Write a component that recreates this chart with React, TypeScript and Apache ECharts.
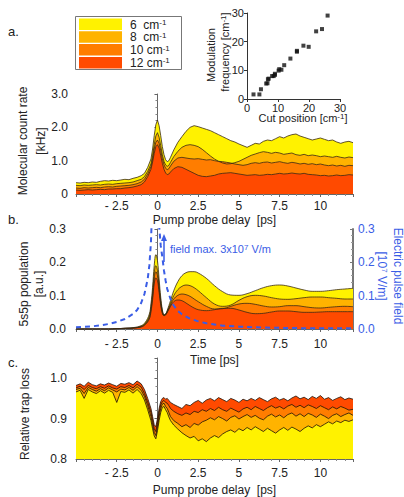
import React, { useEffect, useRef } from 'react';
import * as echarts from 'echarts';

// ---------- data ----------
const delays = [-5,-4.75,-4.5,-4.25,-4,-3.75,-3.5,-3.25,-3,-2.75,-2.5,-2.25,-2,-1.75,-1.5,-1.25,-1,
  -0.8,-0.6,-0.4,
  -0.3,-0.2,-0.1,0,0.1,0.2,0.3,0.4,0.5,0.6,0.7,0.8,
  1,1.25,1.5,1.75,2,2.25,2.5,2.75,3,3.25,3.5,3.75,4,4.25,4.5,4.75,5,5.25,5.5,5.75,6,6.25,6.5,6.75,7,7.25,7.5,7.75,8,8.25,8.5,8.75,9,9.25,9.5,9.75,10,10.25,10.5,10.75,11,11.25,11.5,11.75,12];

const countRate6 = [0.34,0.33,0.35,0.34,0.36,0.35,0.38,0.40,0.39,0.41,0.40,0.42,0.44,0.43,0.47,0.50,0.55,
  0.62,0.80,1.05,
  1.35,1.75,2.08,2.22,2.05,1.75,1.42,1.18,1.03,0.97,1.00,1.10,
  1.32,1.55,1.72,1.88,2.00,2.05,2.02,1.98,1.94,1.90,1.84,1.78,1.72,1.66,1.60,1.56,1.50,1.45,1.40,1.46,1.52,1.50,1.58,1.62,1.60,1.66,1.72,1.68,1.74,1.78,1.80,1.74,1.70,1.66,1.62,1.65,1.68,1.64,1.60,1.62,1.56,1.52,1.56,1.58,1.54];
const countRate8 = [0.26,0.25,0.27,0.26,0.27,0.28,0.27,0.29,0.30,0.29,0.31,0.32,0.33,0.34,0.36,0.40,0.44,
  0.52,0.68,0.90,
  1.15,1.48,1.74,1.84,1.70,1.45,1.18,0.98,0.87,0.83,0.86,0.95,
  1.12,1.28,1.40,1.46,1.48,1.46,1.42,1.34,1.24,1.14,1.05,0.98,0.93,0.90,0.91,0.94,0.98,1.04,1.10,1.16,1.20,1.24,1.27,1.25,1.22,1.25,1.23,1.19,1.21,1.23,1.18,1.16,1.19,1.15,1.17,1.15,1.12,1.14,1.12,1.10,1.13,1.10,1.08,1.11,1.09];
const countRate10 = [0.18,0.17,0.19,0.18,0.19,0.20,0.19,0.21,0.22,0.21,0.23,0.24,0.25,0.26,0.28,0.31,0.36,
  0.44,0.60,0.82,
  1.05,1.35,1.55,1.62,1.52,1.30,1.06,0.88,0.77,0.73,0.76,0.84,
  0.98,1.08,1.10,1.08,1.06,1.05,1.06,1.04,1.02,1.03,1.00,0.98,0.97,0.95,0.93,0.90,0.88,0.86,0.88,0.92,0.94,0.92,0.95,0.96,0.93,0.95,0.97,0.94,0.92,0.95,0.93,0.90,0.92,0.89,0.91,0.88,0.90,0.87,0.85,0.87,0.84,0.86,0.83,0.86,0.85];
const countRate12 = [0.12,0.11,0.12,0.13,0.12,0.13,0.14,0.13,0.15,0.15,0.16,0.16,0.18,0.19,0.21,0.24,0.28,
  0.36,0.52,0.74,
  0.96,1.22,1.42,1.48,1.38,1.15,0.92,0.74,0.63,0.58,0.60,0.66,
  0.76,0.82,0.80,0.74,0.68,0.62,0.56,0.53,0.52,0.54,0.56,0.60,0.62,0.63,0.64,0.62,0.60,0.58,0.56,0.57,0.58,0.56,0.57,0.59,0.58,0.60,0.62,0.60,0.61,0.63,0.61,0.60,0.62,0.59,0.58,0.57,0.55,0.56,0.54,0.55,0.57,0.55,0.56,0.58,0.57];

const popTimes = [-5,-4,-3,-2.5,-2,-1.5,-1,-0.75,-0.5,
  -0.4,-0.3,-0.2,-0.1,0,0.1,0.2,0.3,0.4,0.5,0.6,
  0.8,1,1.25,1.5,1.75,2,2.25,2.5,
  3,3.5,4,4.5,5,5.5,6,6.5,7,7.5,8,8.5,9,9.5,10,10.5,11,11.5,12];
const population6 = [0,0,0,0.001,0.002,0.004,0.010,0.020,0.045,
  0.075,0.125,0.190,0.223,0.205,0.150,0.095,0.058,0.043,0.045,0.056,
  0.085,0.115,0.142,0.160,0.169,0.172,0.172,0.168,
  0.152,0.130,0.112,0.102,0.101,0.106,0.115,0.124,0.130,0.132,0.129,0.123,0.117,0.113,0.113,0.115,0.118,0.120,0.122];
const population8 = [0,0,0,0.001,0.002,0.003,0.008,0.017,0.038,
  0.065,0.108,0.165,0.190,0.175,0.130,0.085,0.054,0.042,0.044,0.053,
  0.077,0.100,0.118,0.128,0.132,0.130,0.124,0.115,
  0.094,0.075,0.068,0.072,0.086,0.097,0.101,0.099,0.094,0.090,0.089,0.091,0.094,0.096,0.096,0.094,0.092,0.090,0.090];
const population10 = [0,0,0,0.001,0.002,0.003,0.007,0.015,0.034,
  0.058,0.098,0.150,0.172,0.160,0.120,0.078,0.050,0.041,0.043,0.051,
  0.072,0.090,0.101,0.105,0.103,0.098,0.090,0.082,
  0.068,0.060,0.061,0.068,0.075,0.077,0.074,0.069,0.066,0.067,0.070,0.070,0.067,0.064,0.063,0.065,0.067,0.068,0.067];
const population12 = [0,0,0,0.001,0.002,0.003,0.006,0.013,0.030,
  0.052,0.088,0.135,0.153,0.145,0.110,0.072,0.047,0.040,0.042,0.050,
  0.068,0.082,0.087,0.085,0.078,0.070,0.063,0.058,
  0.055,0.058,0.062,0.062,0.057,0.050,0.046,0.047,0.051,0.054,0.054,0.052,0.050,0.050,0.051,0.052,0.052,0.052,0.052];

const fieldTimes = [-5,-4,-3.5,-3,-2.5,-2,-1.5,-1.25,-1,-0.8,-0.6,-0.5,-0.4,-0.3,-0.2,-0.1,0,0.1,0.2,0.3,0.4,0.5,0.6,0.8,1,1.25,1.5,2,2.5,3,4,5,6,8,10,12];
const fieldValues = [0.005,0.008,0.011,0.015,0.021,0.030,0.045,0.057,0.078,0.105,0.150,0.190,0.260,0.400,1.000,3.000,1.500,0.310,0.250,0.215,0.175,0.145,0.120,0.090,0.070,0.054,0.044,0.031,0.023,0.017,0.010,0.007,0.005,0.003,0.002,0.002];

const trapLoss12 = [0.982,0.986,0.980,0.990,0.984,0.981,0.986,0.983,0.988,0.984,0.980,0.987,0.985,0.989,0.984,0.993,0.986,
  0.972,0.950,0.925,
  0.905,0.885,0.880,0.900,0.925,0.942,0.950,0.952,0.948,0.950,0.945,0.940,
  0.935,0.930,0.925,0.935,0.932,0.940,0.945,0.938,0.946,0.950,0.944,0.952,0.947,0.942,0.950,0.946,0.940,0.948,0.944,0.950,0.945,0.952,0.947,0.942,0.949,0.953,0.946,0.950,0.944,0.951,0.956,0.949,0.953,0.947,0.955,0.950,0.957,0.948,0.952,0.945,0.950,0.954,0.947,0.951,0.948];
const trapLoss10 = [0.976,0.980,0.972,0.982,0.977,0.974,0.979,0.975,0.981,0.976,0.973,0.979,0.977,0.982,0.976,0.985,0.978,
  0.962,0.940,0.915,
  0.895,0.875,0.868,0.890,0.915,0.934,0.942,0.945,0.940,0.938,0.932,0.925,
  0.918,0.912,0.908,0.914,0.910,0.918,0.915,0.922,0.918,0.925,0.920,0.928,0.922,0.918,0.926,0.921,0.916,0.924,0.928,0.922,0.930,0.925,0.920,0.927,0.932,0.926,0.930,0.924,0.931,0.935,0.928,0.933,0.927,0.934,0.930,0.925,0.932,0.927,0.922,0.929,0.924,0.930,0.926,0.921,0.923];
const trapLoss8 = [0.972,0.975,0.962,0.977,0.972,0.968,0.974,0.969,0.976,0.971,0.966,0.973,0.971,0.977,0.970,0.979,0.970,
  0.955,0.932,0.905,
  0.885,0.866,0.858,0.880,0.905,0.925,0.936,0.938,0.930,0.925,0.915,0.905,
  0.895,0.888,0.880,0.885,0.878,0.888,0.884,0.892,0.896,0.902,0.897,0.905,0.900,0.894,0.903,0.907,0.899,0.905,0.910,0.903,0.908,0.901,0.897,0.906,0.911,0.904,0.909,0.902,0.910,0.914,0.906,0.912,0.905,0.913,0.909,0.903,0.911,0.906,0.900,0.908,0.912,0.905,0.910,0.914,0.908];
const trapLoss6 = [0.966,0.970,0.950,0.972,0.966,0.962,0.969,0.963,0.970,0.965,0.940,0.967,0.965,0.971,0.963,0.972,0.962,
  0.946,0.922,0.895,
  0.875,0.857,0.850,0.870,0.895,0.915,0.928,0.930,0.922,0.915,0.904,0.895,
  0.884,0.874,0.865,0.858,0.852,0.856,0.845,0.850,0.843,0.852,0.858,0.853,0.862,0.868,0.872,0.866,0.875,0.870,0.878,0.872,0.880,0.874,0.868,0.876,0.870,0.864,0.872,0.878,0.871,0.879,0.874,0.868,0.876,0.882,0.877,0.885,0.880,0.886,0.892,0.887,0.894,0.890,0.896,0.893,0.897];

const cutPosition = [2.1,4.0,4.5,6.2,6.6,6.75,7.0,8.1,8.6,9.0,9.0,10.2,10.4,11.1,12.0,14.0,16.1,16.1,18.2,19.9,22.3,24.2,26.0];
const modulationFrequency = [1.6,1.6,3.4,5.4,5.5,6.9,7.1,8.0,8.0,8.4,8.8,9.9,10.4,10.2,11.8,14.1,16.5,16.8,18.6,18.2,23.6,24.4,29.1];

const seriesNames = ['6  cm', '8  cm', '10 cm', '12 cm'];
const delayTickValues = [-2.5, 0, 2.5, 5, 7.5, 10];
const delayTickLabels = ['- 2.5', '0', '2.5', '5', '7.5', '10'];
const countTickValues = [0, 1, 2, 3];
const countTickLabels = ['0', '1.0', '2.0', '3.0'];
const popTickValues = [0, 0.1, 0.2, 0.3];
const popTickLabels = ['0.0', '0.1', '0.2', '0.3'];
const trapTickValues = [0.8, 0.9, 1.0];
const trapTickLabels = ['0.8', '0.9', '1.0'];
const insetTickValues = [0, 10, 20, 30];
const insetTickLabels = ['0', '10', '20', '30'];

// ---------- styles ----------
const FILLS = ['#fff200', '#ffb300', '#ff7d00', '#ff4a00'];
const BLUE = '#3a5de6';
const FONT = '"Liberation Sans", Arial, Helvetica, sans-serif';
const TEXT = '#222';

const pairs = (xs: number[], ys: number[]) => xs.map((x, i) => [x, ys[i]]);
const fmt = (vals: number[], labels: string[]) => (v: number) => {
  const i = vals.findIndex((t) => Math.abs(t - v) < 1e-6);
  return i >= 0 ? labels[i] : '';
};

const axisLine = { show: true, lineStyle: { color: '#666', width: 1 } };
const axisTick = { show: true, length: 3, lineStyle: { color: '#666' } };
const minorTick = { show: true, splitNumber: 5, length: 2, lineStyle: { color: '#888' } };

function area(name: string, xi: number, yi: number, xs: number[], ys: number[], color: string, smooth: boolean | number, lineColor = '#3a2a14') {
  return {
    type: 'line', name, xAxisIndex: xi, yAxisIndex: yi, data: pairs(xs, ys),
    showSymbol: false, symbol: 'none', smooth, silent: true,
    lineStyle: { color: lineColor, width: 0.8 },
    itemStyle: { color },
    areaStyle: { color, opacity: 1, origin: 'start' },
  };
}

function xDelayAxis(gridIndex: number, margin: number) {
  return {
    type: 'value', gridIndex, min: -5, max: 12, interval: 2.5,
    axisLine, axisTick, minorTick, splitLine: { show: false },
    axisLabel: { margin, fontSize: 12, fontFamily: FONT, color: TEXT, formatter: fmt(delayTickValues, delayTickLabels) },
  };
}

const supRich = { s: { fontSize: 8, fontFamily: FONT, verticalAlign: 'top', fill: TEXT } };

function txt(x: number, y: number, text: string, opts: any = {}) {
  return {
    type: 'text', x, y, rotation: opts.rotation || 0, silent: true,
    style: {
      text, align: opts.align || 'center', verticalAlign: 'middle',
      fontSize: opts.fontSize || 12, fontFamily: FONT, fill: opts.fill || TEXT,
      rich: opts.rich,
    },
  };
}

export default function App() {
  const ref = useRef<HTMLDivElement>(null);
  useEffect(() => {
    if (!ref.current) return;
    const chart = echarts.init(ref.current, null, { renderer: 'svg' });
    const blueRich = { s: { fontSize: 8, fontFamily: FONT, verticalAlign: 'top', fill: BLUE } };
    const legendItems: any[] = [
      { type: 'rect', shape: { x: 75.5, y: 16.5, width: 106, height: 53 }, style: { fill: '#fff', stroke: '#777', lineWidth: 1 }, silent: true },
    ];
    seriesNames.forEach((n, i) => {
      legendItems.push({ type: 'rect', shape: { x: 79, y: 18.5 + i * 12.8, width: 43, height: 11.5 }, style: { fill: FILLS[i] }, silent: true });
      legendItems.push(txt(130, 24.5 + i * 12.8, n + '{s|-1}', { align: 'left', rich: supRich }));
    });

    const option: any = {
      animation: false,
      backgroundColor: '#fff',
      grid: [
        { left: 76, top: 94, width: 277, height: 100 },
        { left: 76, top: 229, width: 277, height: 100 },
        { left: 76, top: 358, width: 277, height: 101 },
        { left: 247, top: 13, width: 93, height: 86 },
      ],
      xAxis: [
        xDelayAxis(0, 6),
        xDelayAxis(1, 9),
        xDelayAxis(2, 8),
        {
          type: 'value', gridIndex: 3, min: 0, max: 30, interval: 10,
          axisLine: { show: true, lineStyle: { color: '#333' } }, axisTick: { show: true, length: 3, lineStyle: { color: '#333' } },
          splitLine: { show: false },
          axisLabel: { margin: 3, fontSize: 11, fontFamily: FONT, color: TEXT, formatter: fmt(insetTickValues, insetTickLabels) },
        },
      ],
      yAxis: [
        {
          type: 'value', gridIndex: 0, min: 0, max: 3, interval: 1,
          axisLine, axisTick, minorTick, splitLine: { show: false },
          axisLabel: { margin: 8, fontSize: 12, fontFamily: FONT, color: TEXT, formatter: fmt(countTickValues, countTickLabels) },
        },
        {
          type: 'value', gridIndex: 1, min: 0, max: 0.3, interval: 0.1,
          axisLine, axisTick, minorTick, splitLine: { show: false },
          axisLabel: { margin: 10, fontSize: 12, fontFamily: FONT, color: TEXT, formatter: fmt(popTickValues, popTickLabels) },
        },
        {
          type: 'value', gridIndex: 1, position: 'right', min: 0, max: 0.3, interval: 0.1,
          axisLine: { show: true, lineStyle: { color: '#777', width: 2 } },
          axisTick: { show: true, inside: true, length: 3, lineStyle: { color: '#777' } },
          minorTick: { show: true, splitNumber: 5, length: 2, lineStyle: { color: '#999' } },
          splitLine: { show: false },
          axisLabel: { margin: 5, fontSize: 12, fontFamily: FONT, color: BLUE, formatter: fmt(popTickValues, popTickLabels) },
        },
        {
          type: 'value', gridIndex: 2, min: 0.8, max: 1.05, interval: 0.1,
          axisLine, axisTick, minorTick, splitLine: { show: false },
          axisLabel: { margin: 9, fontSize: 12, fontFamily: FONT, color: TEXT, formatter: fmt(trapTickValues, trapTickLabels) },
        },
        {
          type: 'value', gridIndex: 3, min: 0, max: 30, interval: 10,
          axisLine: { show: true, lineStyle: { color: '#333' } }, axisTick: { show: true, length: 3, lineStyle: { color: '#333' } },
          splitLine: { show: false },
          axisLabel: { margin: 3, fontSize: 11, fontFamily: FONT, color: TEXT, formatter: fmt(insetTickValues, insetTickLabels) },
        },
      ],
      series: [
        area(seriesNames[0], 0, 0, delays, countRate6, FILLS[0], false),
        area(seriesNames[1], 0, 0, delays, countRate8, FILLS[1], false),
        area(seriesNames[2], 0, 0, delays, countRate10, FILLS[2], false),
        area(seriesNames[3], 0, 0, delays, countRate12, FILLS[3], false),
        area(seriesNames[0], 1, 1, popTimes, population6, FILLS[0], 0.4),
        area(seriesNames[1], 1, 1, popTimes, population8, FILLS[1], 0.4),
        area(seriesNames[2], 1, 1, popTimes, population10, FILLS[2], 0.4),
        area(seriesNames[3], 1, 1, popTimes, population12, FILLS[3], 0.4),
        {
          type: 'line', name: 'field', xAxisIndex: 1, yAxisIndex: 2, data: pairs(fieldTimes, fieldValues),
          showSymbol: false, symbol: 'none', clip: true, silent: true, z: 5,
          lineStyle: { color: BLUE, width: 2, type: [5, 4] },
        },
        area(seriesNames[3], 2, 3, delays, trapLoss12, FILLS[3], false, '#1c1208'),
        area(seriesNames[2], 2, 3, delays, trapLoss10, FILLS[2], false, '#1c1208'),
        area(seriesNames[1], 2, 3, delays, trapLoss8, FILLS[1], false, '#1c1208'),
        area(seriesNames[0], 2, 3, delays, trapLoss6, FILLS[0], false, '#1c1208'),
        {
          type: 'scatter', name: 'inset', xAxisIndex: 3, yAxisIndex: 4, data: pairs(cutPosition, modulationFrequency),
          symbol: 'rect', symbolSize: 4, itemStyle: { color: '#111' }, silent: true,
        },
      ],
      graphic: [
        ...legendItems,
        txt(8, 31, 'a.', { align: 'left', fontSize: 13 }),
        txt(8, 219, 'b.', { align: 'left', fontSize: 13 }),
        txt(8, 362, 'c.', { align: 'left', fontSize: 13 }),
        txt(214.5, 220, 'Pump probe delay  [ps]', { fontSize: 12 }),
        txt(214.5, 359.5, 'Time [ps]', { fontSize: 12 }),
        txt(214.5, 490, 'Pump probe delay  [ps]', { fontSize: 12 }),
        txt(22.5, 141, 'Molecular count rate', { rotation: Math.PI / 2 }),
        txt(40.5, 141, '[kHz]', { rotation: Math.PI / 2 }),
        txt(24, 284, '5s5p population', { rotation: Math.PI / 2 }),
        txt(39, 284, '[a.u.]', { rotation: Math.PI / 2 }),
        txt(25, 414, 'Relative trap loss', { rotation: Math.PI / 2 }),
        txt(397.5, 276, 'Electric pulse field', { rotation: -Math.PI / 2, fill: BLUE, fontSize: 12 }),
        txt(382, 276, '[10{s|7} V/m]', { rotation: -Math.PI / 2, fill: BLUE, fontSize: 12, rich: blueRich }),
        txt(211, 55, 'Modulation', { rotation: Math.PI / 2, fontSize: 11 }),
        txt(224.5, 52, 'frequency [cm{s|-1}]', { rotation: Math.PI / 2, fontSize: 11, rich: supRich }),
        txt(303, 118, 'Cut position [cm{s|-1}]', { fontSize: 11, rich: supRich }),
        { type: 'line', shape: { x1: 164, y1: 262, x2: 164, y2: 240 }, style: { stroke: BLUE, lineWidth: 1.5 }, silent: true },
        { type: 'polygon', shape: { points: [[161, 241], [167, 241], [164, 234]] }, style: { fill: BLUE }, silent: true },
        txt(170, 249, 'field max. 3x10{s|7} V/m', { align: 'left', fill: BLUE, fontSize: 11, rich: blueRich }),
      ],
    };
    chart.setOption(option);
    return () => chart.dispose();
  }, []);
  return <div ref={ref} style={{ position: 'fixed', left: 0, top: 0, width: 404, height: 497 }} />;
}
